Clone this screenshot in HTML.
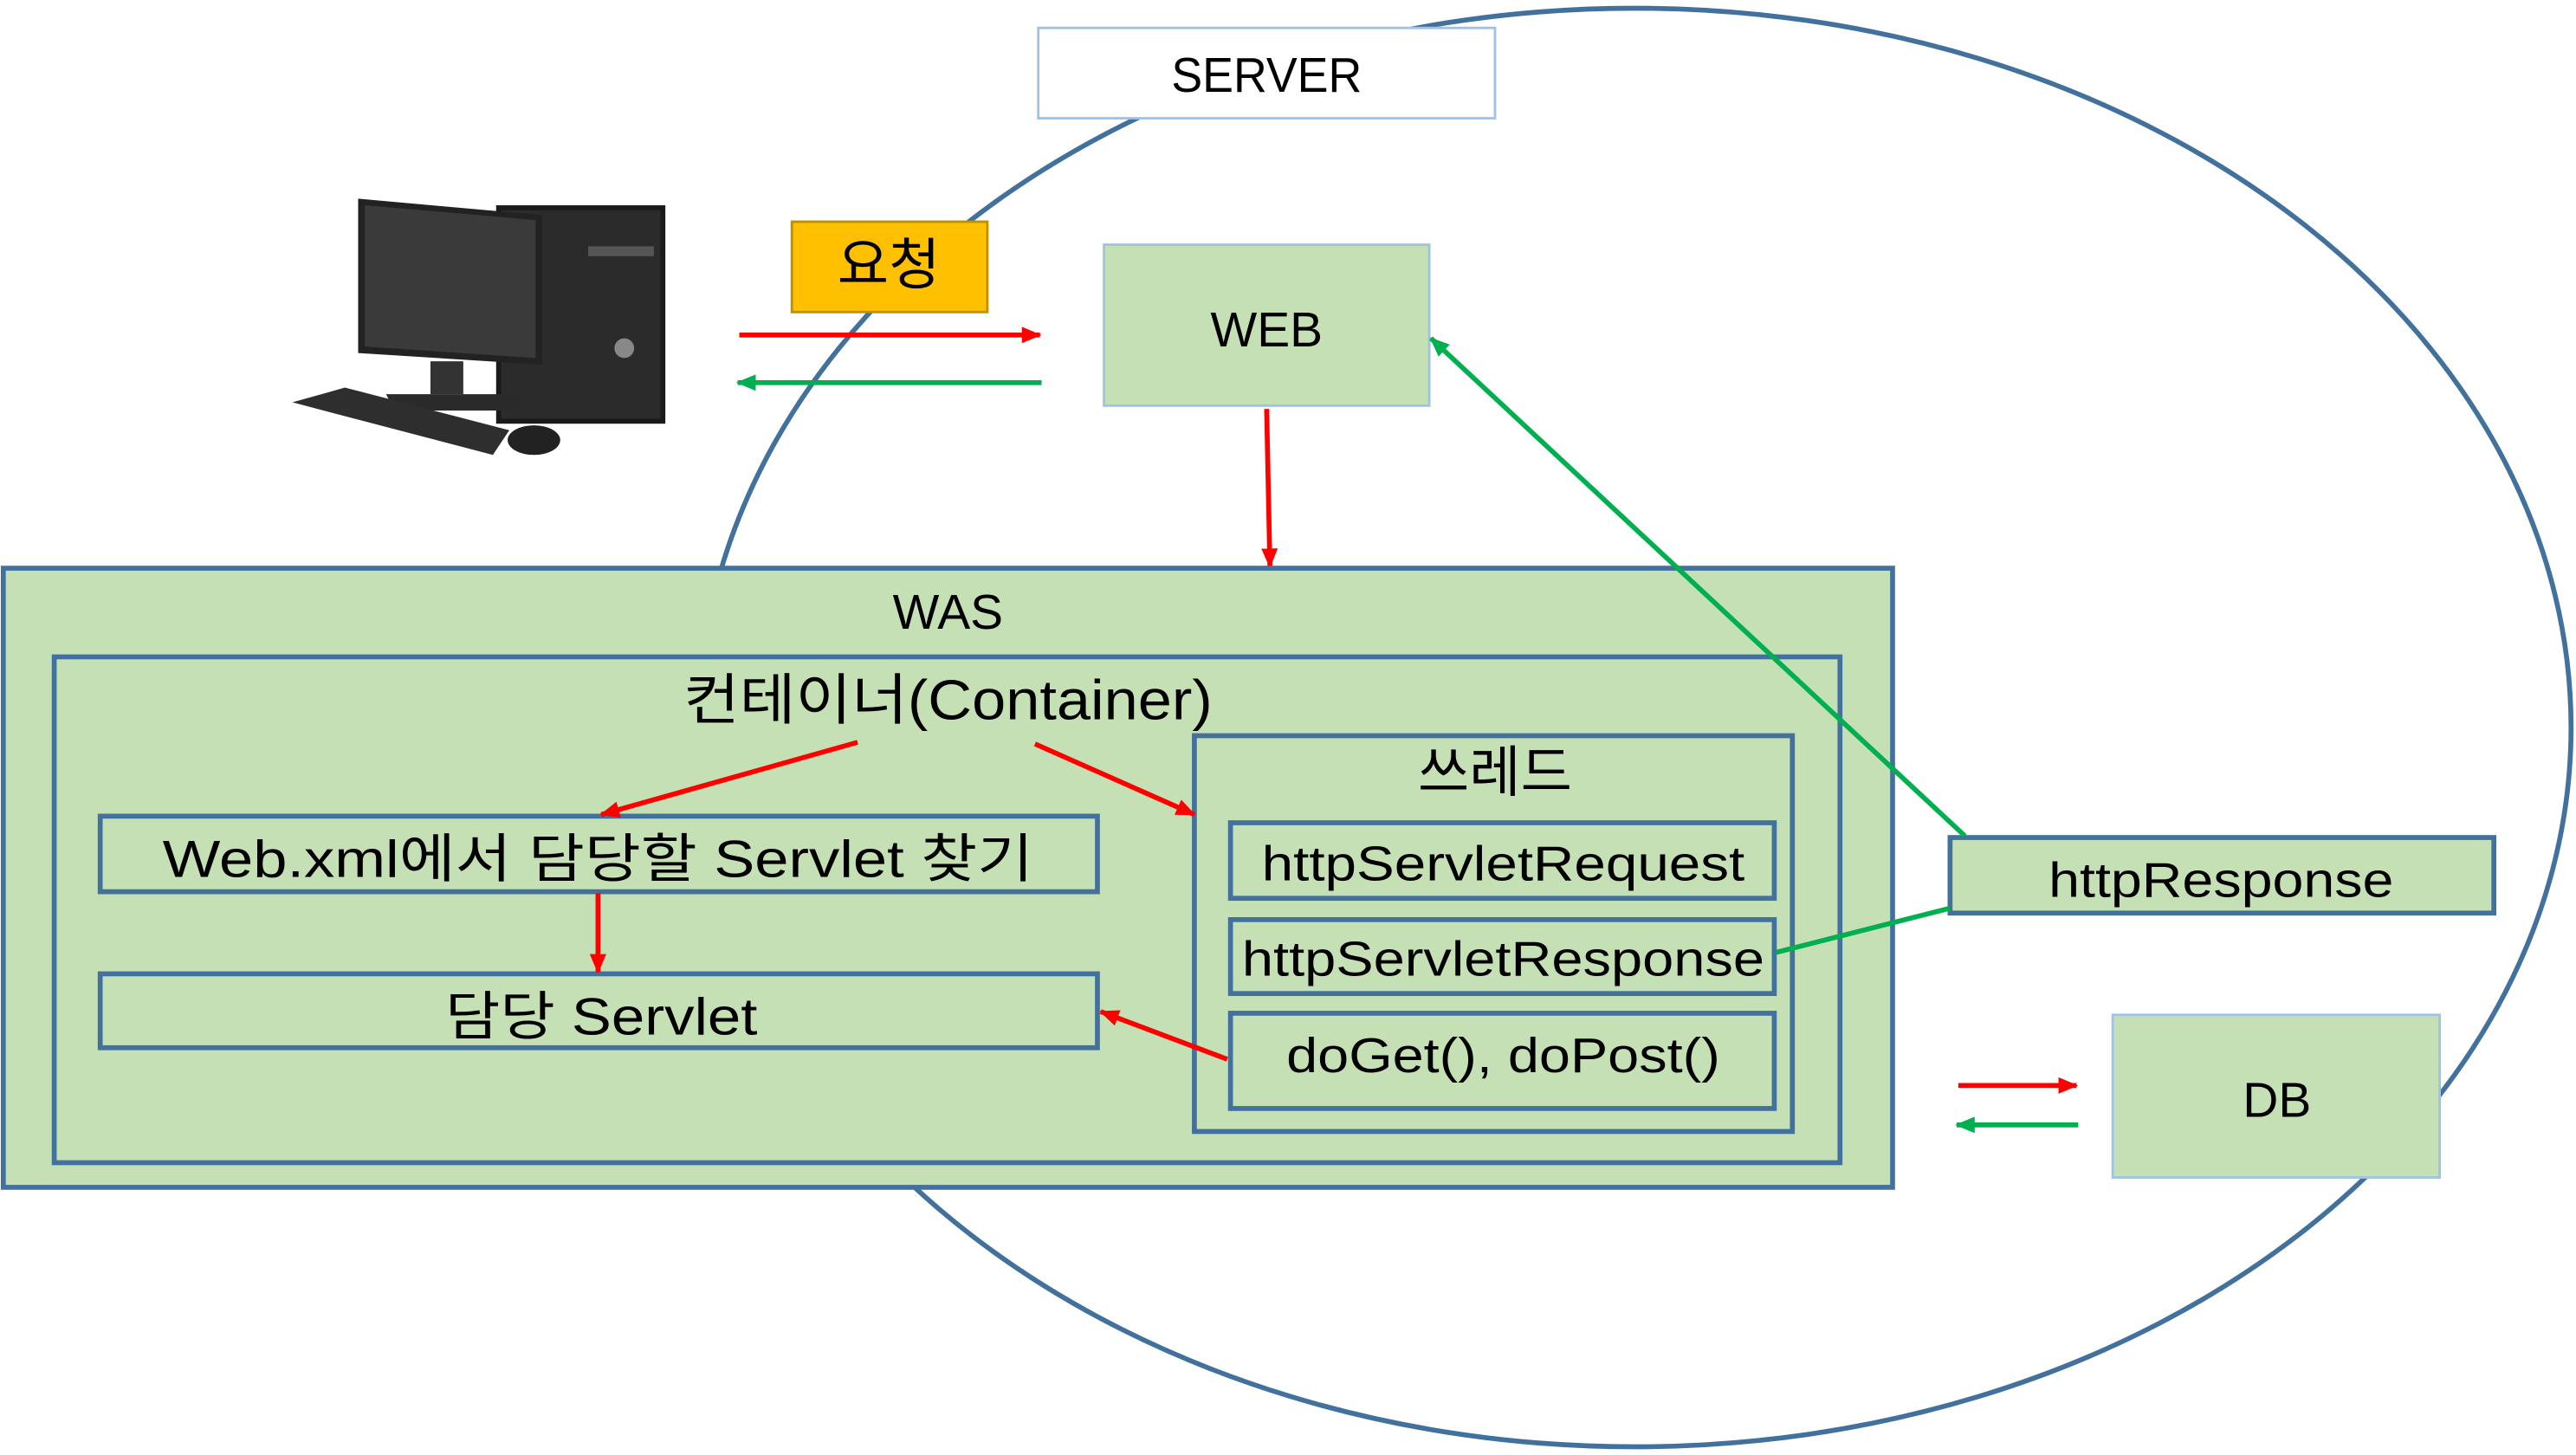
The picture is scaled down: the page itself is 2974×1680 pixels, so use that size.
<!DOCTYPE html>
<html><head><meta charset="utf-8"><style>html,body{margin:0;padding:0;background:#fff}svg{display:block}text{font-family:"Liberation Sans","Noto Sans CJK KR",sans-serif;fill:#000}</style></head>
<body>
<svg width="2974" height="1680" viewBox="0 0 1568 886" preserveAspectRatio="none" xmlns="http://www.w3.org/2000/svg">
<defs>
<marker id="r" markerWidth="12" markerHeight="10" refX="11" refY="5" orient="auto" markerUnits="userSpaceOnUse"><path d="M0,0 L12,5 L0,10 z" fill="#ff0000"/></marker>
<marker id="g" markerWidth="12" markerHeight="10" refX="11" refY="5" orient="auto" markerUnits="userSpaceOnUse"><path d="M0,0 L12,5 L0,10 z" fill="#00b050"/></marker>
</defs>
<ellipse cx="995" cy="443" rx="570" ry="438" fill="none" stroke="#41719c" stroke-width="3"/>
<rect x="632" y="17" width="278" height="55" fill="#fff" stroke="#9dc3e6" stroke-width="1.5"/>
<text x="771" y="56" font-size="30" text-anchor="middle" textLength="116" lengthAdjust="spacingAndGlyphs">SERVER</text>
<g>
<rect x="302" y="125" width="103" height="133" fill="#1a1a1a"/>
<rect x="305" y="128" width="97" height="127" fill="#2b2b2b"/>
<rect x="358" y="150" width="40" height="6" fill="#555"/>
<circle cx="380" cy="212" r="6" fill="#888"/>
<polygon points="218,121 330,131 330,222 218,215" fill="#222"/>
<polygon points="222,125 326,134 326,218 222,211" fill="#3a3a3a"/>
<rect x="262" y="220" width="20" height="20" fill="#333"/>
<polygon points="235,240 318,240 310,250 240,250" fill="#2a2a2a"/>
<polygon points="178,245 210,236 310,262 300,277" fill="#2e2e2e"/>
<ellipse cx="325" cy="268" rx="16" ry="9" fill="#222"/>
</g>
<rect x="482" y="135" width="119" height="55" fill="#ffc000" stroke="#bf9000" stroke-width="1.5"/>
<text x="541" y="173" font-size="34" text-anchor="middle">요청</text>
<line x1="450" y1="204" x2="633" y2="204" stroke="#ff0000" stroke-width="3" marker-end="url(#r)"/>
<line x1="634" y1="233" x2="449" y2="233" stroke="#00b050" stroke-width="3" marker-end="url(#g)"/>
<rect x="672" y="149" width="198" height="98" fill="#c5e0b4" stroke="#9dc3e6" stroke-width="1.5"/>
<text x="771" y="211" font-size="30" text-anchor="middle">WEB</text>
<line x1="771" y1="249" x2="773" y2="345" stroke="#ff0000" stroke-width="3" marker-end="url(#r)"/>
<rect x="2" y="346" width="1150" height="377" fill="#c5e0b4" stroke="#41719c" stroke-width="3"/>
<text x="577" y="383" font-size="30" text-anchor="middle">WAS</text>
<rect x="33" y="400" width="1087" height="308" fill="#c5e0b4" stroke="#41719c" stroke-width="3"/>
<text x="577" y="438" font-size="34" text-anchor="middle" textLength="322" lengthAdjust="spacingAndGlyphs">컨테이너(Container)</text>
<rect x="61" y="497" width="607" height="46" fill="#c5e0b4" stroke="#41719c" stroke-width="3"/>
<text x="364" y="534" font-size="32" text-anchor="middle" textLength="530" lengthAdjust="spacingAndGlyphs">Web.xml에서 담당할 Servlet 찾기</text>
<rect x="61" y="593" width="607" height="45" fill="#c5e0b4" stroke="#41719c" stroke-width="3"/>
<text x="366" y="630" font-size="32" text-anchor="middle" textLength="190" lengthAdjust="spacingAndGlyphs">담당 Servlet</text>
<rect x="727" y="448" width="364" height="241" fill="#c5e0b4" stroke="#41719c" stroke-width="3"/>
<text x="910" y="482" font-size="34" text-anchor="middle">쓰레드</text>
<rect x="749" y="501" width="331" height="46" fill="#c5e0b4" stroke="#41719c" stroke-width="3"/>
<text x="915" y="536" font-size="30" text-anchor="middle" textLength="294" lengthAdjust="spacingAndGlyphs">httpServletRequest</text>
<rect x="749" y="560" width="331" height="45" fill="#c5e0b4" stroke="#41719c" stroke-width="3"/>
<text x="915" y="594" font-size="30" text-anchor="middle" textLength="318" lengthAdjust="spacingAndGlyphs">httpServletResponse</text>
<rect x="749" y="617" width="331" height="58" fill="#c5e0b4" stroke="#41719c" stroke-width="3"/>
<text x="915" y="653" font-size="30" text-anchor="middle" textLength="264" lengthAdjust="spacingAndGlyphs">doGet(), doPost()</text>
<rect x="1187" y="510" width="331" height="46" fill="#c5e0b4" stroke="#41719c" stroke-width="3"/>
<text x="1352" y="546" font-size="30" text-anchor="middle" textLength="210" lengthAdjust="spacingAndGlyphs">httpResponse</text>
<rect x="1286" y="618" width="199" height="99" fill="#c5e0b4" stroke="#9dc3e6" stroke-width="1.5"/>
<text x="1386" y="680" font-size="30" text-anchor="middle">DB</text>
<line x1="522" y1="452" x2="366" y2="496" stroke="#ff0000" stroke-width="3" marker-end="url(#r)"/>
<line x1="630" y1="453" x2="727" y2="496" stroke="#ff0000" stroke-width="3" marker-end="url(#r)"/>
<line x1="364" y1="544" x2="364" y2="592" stroke="#ff0000" stroke-width="3" marker-end="url(#r)"/>
<line x1="747" y1="645" x2="670" y2="616" stroke="#ff0000" stroke-width="3" marker-end="url(#r)"/>
<line x1="1196" y1="509" x2="871" y2="206" stroke="#00b050" stroke-width="3" marker-end="url(#g)"/>
<line x1="1187" y1="553" x2="1081" y2="580" stroke="#00b050" stroke-width="3"/>
<line x1="1192" y1="661" x2="1264" y2="661" stroke="#ff0000" stroke-width="3" marker-end="url(#r)"/>
<line x1="1265" y1="685" x2="1191" y2="685" stroke="#00b050" stroke-width="3" marker-end="url(#g)"/>
</svg>
</body></html>
